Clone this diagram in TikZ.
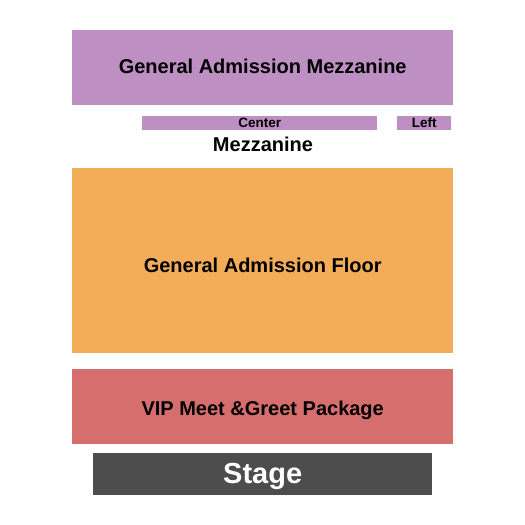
\documentclass[tikz,border=0pt]{standalone}
\usepackage{fontspec}
\setmainfont{Liberation Sans}
\usetikzlibrary{positioning}
\definecolor{mezzC}{HTML}{BD8FC3}
\definecolor{floorC}{HTML}{F3AD58}
\definecolor{vipC}{HTML}{D76E6E}
\definecolor{stageC}{HTML}{4D4D4D}
\tikzset{
    secB/.style args={#1 #2 #3}{
        fill=#1, draw=none, rectangle, inner sep=0pt, anchor=north west,
        text=black, font=\fontsize{#2}{#2}\selectfont\bfseries,
        text height=#3, text depth=0pt
    },
    secB/.default={mezzC 20pt 11pt}
}
\begin{document}
\begin{tikzpicture}[x=1pt, y=-1pt]
    \useasboundingbox (0,0) rectangle (525,525);
    \node[secB={mezzC 20pt 11pt}, minimum width=381pt, minimum height=75pt] (gam) at (72,30) {General Admission Mezzanine};
    \node[secB={mezzC 13.5pt 8pt}, minimum width=235pt, minimum height=14pt] (cen) at (142,116) {Center};
    \node[secB={mezzC 13.5pt 8pt}, minimum width=54pt, minimum height=14pt] (lft) at (397,116) {Left};
    \node[font=\fontsize{20pt}{20pt}\selectfont\bfseries, inner sep=0pt, anchor=base] (mez) at (263,151) {Mezzanine};
    \node[secB={floorC 20pt 23pt}, minimum width=381pt, minimum height=185pt] (gaf) at (72,168) {General Admission Floor};
    \node[secB={vipC 20pt 17pt}, minimum width=381pt, minimum height=75pt] (vip) at (72,369) {VIP Meet \&Greet Package};
    \node[secB={stageC 29pt 18pt}, text=white, minimum width=339pt, minimum height=42pt] (stg) at (93,453) {Stage};
\end{tikzpicture}
\end{document}
